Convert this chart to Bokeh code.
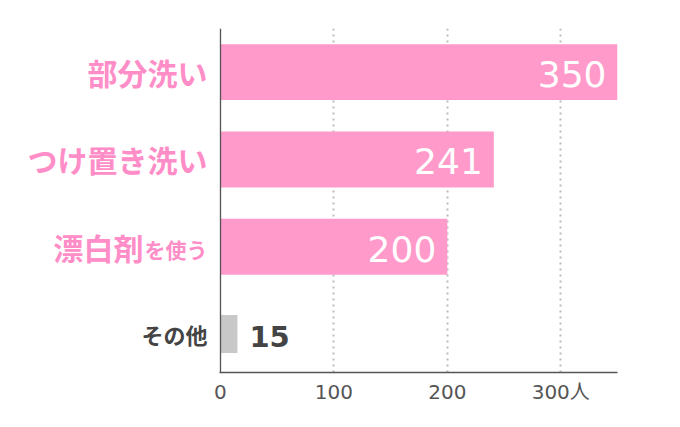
from bokeh.plotting import figure
from bokeh.models import ColumnDataSource, Range1d, FixedTicker, Span
from bokeh.layouts import row
from bokeh.embed import file_html
from bokeh.resources import INLINE
from bokeh.core.properties import value

# Data
categories = ["部分洗い", "つけ置き洗い", "漂白剤を使う", "その他"]
counts = [350, 241, 200, 15]
bar_colors = ["#ff9acb", "#ff9acb", "#ff9acb", "#c8c8c8"]
bar_heights = [0.64, 0.64, 0.64, 0.435]
x_ticks = [0, 100, 200, 300]
x_tick_labels = ["0", "100", "200", "300人"]
small_suffix = "を使う"

PINK_TXT = "#ff8dc7"
DARK = "#444444"
JP = "Noto Sans CJK JP"
NUM = "DejaVu Sans"

idx = list(range(len(categories)))
y_range = Range1d(3.44, -0.5)

LEFT_W = 212
TOTAL_W = 680
H = 427
TOP, BOTTOM = 28, 55

# ---- left label panel ----
lp = figure(width=LEFT_W, height=H, output_backend="svg", toolbar_location=None,
            x_range=Range1d(0, 1), y_range=y_range,
            min_border_left=0, min_border_right=0, min_border_top=TOP,
            min_border_bottom=BOTTOM)
lp.axis.visible = False
lp.grid.visible = False
lp.outline_line_color = None

big_y, big_t, suf_y, suf_t, oth_y, oth_t, big_off = [], [], [], [], [], [], []
for i, cat in enumerate(categories):
    if counts[i] < 100:
        oth_y.append(i); oth_t.append(cat)
    elif cat.endswith(small_suffix):
        big_y.append(i); big_t.append(cat[:-len(small_suffix)]); big_off.append(-69)
        suf_y.append(i); suf_t.append(small_suffix)
    else:
        big_y.append(i); big_t.append(cat); big_off.append(-5)

lp.text(x=1, y="y", text="t", x_offset="o",
        source=ColumnDataSource(dict(y=big_y, t=big_t, o=big_off)),
        text_color=PINK_TXT, text_font=value(JP), text_font_size="30px",
        text_font_style="bold", text_align="right", text_baseline="middle")
lp.text(x=1, y="y", text="t", source=ColumnDataSource(dict(y=suf_y, t=suf_t)),
        text_color=PINK_TXT, text_font=value(JP), text_font_size="21px",
        text_font_style="bold", text_align="right", text_baseline="middle",
        x_offset=-5, y_offset=2)
lp.text(x=1, y="y", text="t", source=ColumnDataSource(dict(y=oth_y, t=oth_t)),
        text_color=DARK, text_font=value(JP), text_font_size="22px",
        text_font_style="bold", text_align="right", text_baseline="middle",
        x_offset=-5)

# ---- main chart ----
src = ColumnDataSource(dict(y=idx, right=counts, color=bar_colors, h=bar_heights))
p = figure(width=TOTAL_W - LEFT_W, height=H, output_backend="svg",
           toolbar_location=None, x_range=Range1d(-0.8, 350), y_range=y_range,
           min_border_left=7, min_border_right=63, min_border_top=TOP,
           min_border_bottom=BOTTOM)
p.outline_line_color = None

p.xgrid.ticker = FixedTicker(ticks=x_ticks[1:])
p.xgrid.grid_line_color = "#bbbbbb"
p.xgrid.grid_line_width = 2
p.xgrid.grid_line_dash = "2 4"
p.ygrid.grid_line_color = None

p.hbar(y="y", left=0, right="right", height="h", color="color", source=src,
       line_color=None)

inside = [i for i in idx if counts[i] >= 100]
outside = [i for i in idx if counts[i] < 100]
src_in = ColumnDataSource(dict(x=[counts[i] for i in inside], y=inside,
                               t=[str(counts[i]) for i in inside]))
src_out = ColumnDataSource(dict(x=[counts[i] for i in outside], y=outside,
                                t=[str(counts[i]) for i in outside]))
p.text(x="x", y="y", text="t", source=src_in, text_color="white",
       text_font=value(NUM), text_font_size="36px", text_align="right",
       text_baseline="middle", x_offset=-11, y_offset=2)
p.text(x="x", y="y", text="t", source=src_out, text_color=DARK,
       text_font=value(NUM), text_font_size="29px", text_font_style="bold",
       text_align="left", text_baseline="middle", x_offset=12, y_offset=2)

p.add_layout(Span(location=0, dimension="height", line_color="#555555",
                  line_width=1.5))
p.yaxis.visible = False

p.xaxis.ticker = FixedTicker(ticks=x_ticks)
p.xaxis.major_label_overrides = {t: l for t, l in zip(x_ticks, x_tick_labels)}
p.xaxis.major_tick_line_color = None
p.xaxis.minor_tick_line_color = None
p.xaxis.axis_line_color = "#555555"
p.xaxis.axis_line_width = 1.5
p.xaxis.major_label_text_font = "'DejaVu Sans', 'Noto Sans CJK JP'"
p.xaxis.major_label_text_font_size = "20px"
p.xaxis.major_label_text_color = "#555555"
p.xaxis.major_label_standoff = 1

layout = row(lp, p, spacing=0)
open("out.html", "w").write(file_html(layout, INLINE))
